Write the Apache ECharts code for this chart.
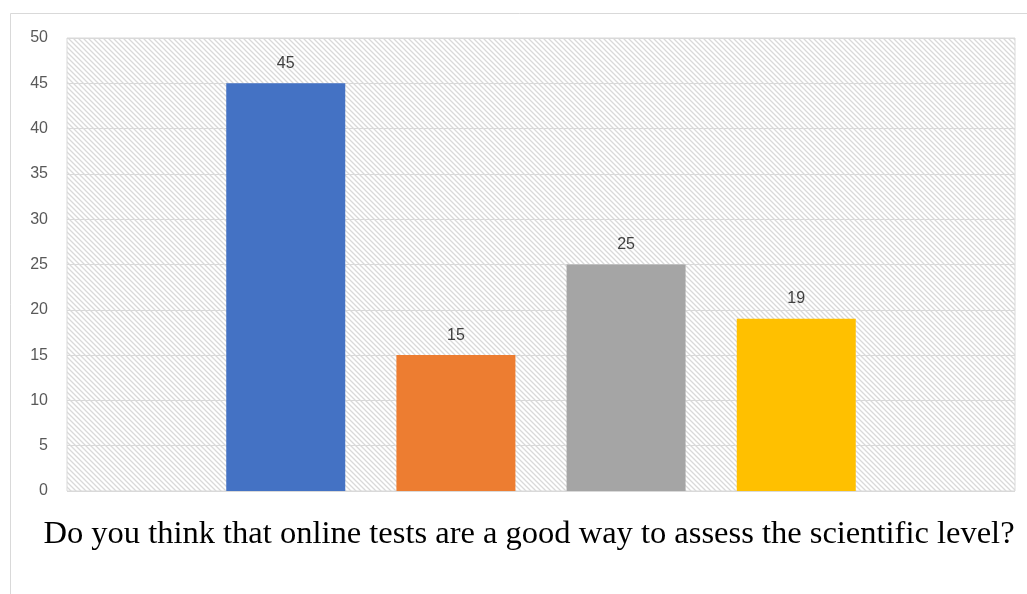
<!DOCTYPE html>
<html>
<head>
<meta charset="utf-8">
<script src="https://cdn.jsdelivr.net/npm/echarts@6/dist/echarts.min.js"></script>
<style>
  html, body { margin: 0; padding: 0; background: #fff; }
  #chart { width: 1027px; height: 594px; }
</style>
</head>
<body>
<div id="chart"></div>
<script>
// Survey answers, one bar per answer option
const categories = ['Do you think that online tests are a good way to assess the scientific level?'];
const seriesNames = ['Option 1', 'Option 2', 'Option 3', 'Option 4'];
const seriesValues = [[45], [15], [25], [19]];
const seriesColors = ['#4472c4', '#ed7d31', '#a5a5a5', '#ffc000'];
const yTicks = { min: 0, max: 50, interval: 5 };

// Diagonal hatch tile for the plot background
function hatchTile() {
  const s = 5;
  const c = document.createElement('canvas');
  c.width = s; c.height = s;
  const g = c.getContext('2d');
  g.fillStyle = '#ffffff';
  g.fillRect(0, 0, s, s);
  g.strokeStyle = '#d9d9d9';
  g.lineWidth = 1.3;
  g.beginPath();
  g.moveTo(-1, -1); g.lineTo(s + 1, s + 1);
  g.moveTo(-1, s - 1); g.lineTo(1, s + 1);
  g.moveTo(s - 1, -1); g.lineTo(s + 1, 1);
  g.stroke();
  return c;
}

const chart = echarts.init(document.getElementById('chart'), null, { renderer: 'canvas' });

const series = seriesValues.map((vals, i) => ({
  name: seriesNames[i],
  type: 'bar',
  data: vals,
  barWidth: 119,
  barGap: '43%',
  itemStyle: { color: seriesColors[i] },
  label: {
    show: true,
    position: 'top',
    distance: 12,
    color: '#404040',
    fontSize: 16,
    fontFamily: 'Liberation Sans, Arial, sans-serif'
  }
}));

chart.setOption({
  animation: false,
  backgroundColor: '#ffffff',
  graphic: [{
    type: 'rect',
    shape: { x: 10.5, y: 13.5, width: 1030, height: 600 },
    style: { fill: 'none', stroke: '#d9d9d9', lineWidth: 1 },
    silent: true,
    z: -10
  }],
  grid: {
    left: 67, right: 12, top: 38, bottom: 103,
    show: true,
    backgroundColor: { image: hatchTile(), repeat: 'repeat' },
    borderColor: '#d9d9d9',
    borderWidth: 1
  },
  xAxis: {
    type: 'category',
    data: categories,
    axisLine: { show: false },
    axisTick: { show: false },
    axisLabel: {
      margin: 27,
      color: '#000000',
      fontSize: 32.5,
      fontFamily: 'Liberation Serif, Times New Roman, serif',
      padding: [0, 24, 0, 0]
    }
  },
  yAxis: {
    type: 'value',
    min: yTicks.min,
    max: yTicks.max,
    interval: yTicks.interval,
    axisLine: { show: false },
    axisTick: { show: false },
    splitLine: { lineStyle: { color: '#d9d9d9', width: 1 } },
    axisLabel: {
      margin: 19,
      color: '#595959',
      fontSize: 16,
      fontFamily: 'Liberation Sans, Arial, sans-serif'
    }
  },
  series: series
});
</script>
</body>
</html>
